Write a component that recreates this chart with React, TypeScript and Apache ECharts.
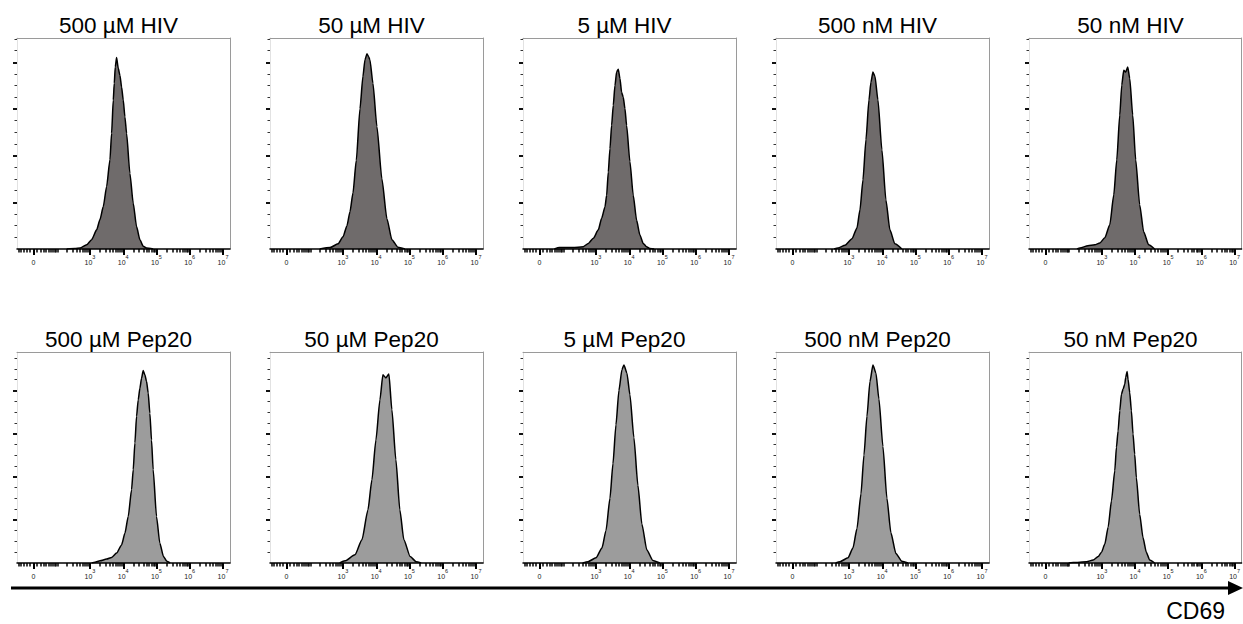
import React, { useEffect, useRef } from "react";
import * as echarts from "echarts";

// Panel titles (row 1: HIV peptide, row 2: Pep20)
const panelTitles = [
  "500 µM HIV", "50 µM HIV", "5 µM HIV", "500 nM HIV", "50 nM HIV",
  "500 µM Pep20", "50 µM Pep20", "5 µM Pep20", "500 nM Pep20", "50 nM Pep20",
];

// Histograms: [CD69 on biexponential display scale (10^k -> k), cell count]
const hiv500uM = [[2.30,0],[2.55,1],[2.70,2],[2.90,9],[3.05,20],[3.20,41],[3.30,63],[3.40,91],[3.50,134],[3.60,191],[3.65,248],[3.70,319],[3.73,355],[3.76,390],[3.80,410],[3.85,387],[3.90,372],[3.95,347],[4.00,319],[4.05,283],[4.10,248],[4.20,162],[4.30,98],[4.40,48],[4.50,20],[4.60,6],[4.70,2],[4.90,0]];
const hiv50uM = [[2.30,0],[2.61,3],[2.85,11],[3.00,26],[3.12,50],[3.21,80],[3.30,120],[3.40,190],[3.51,300],[3.60,370],[3.66,405],[3.72,418],[3.77,412],[3.81,405],[3.90,355],[4.02,262],[4.17,150],[4.32,65],[4.47,20],[4.65,4],[4.86,0]];
const hiv5uM = [[1.75,0],[1.90,3],[2.30,3],[2.62,5],[2.77,12],[2.92,23],[3.07,41],[3.17,66],[3.27,90],[3.32,115],[3.37,165],[3.42,215],[3.47,265],[3.52,308],[3.57,350],[3.62,379],[3.67,385],[3.72,365],[3.77,336],[3.82,325],[3.87,301],[3.92,265],[4.02,187],[4.12,115],[4.22,62],[4.32,30],[4.42,12],[4.52,5],[4.62,1],[4.75,0]];
const hiv500nM = [[2.55,0],[2.67,2],[2.88,8],[3.09,22],[3.24,45],[3.33,84],[3.42,148],[3.51,234],[3.60,319],[3.66,357],[3.72,379],[3.78,370],[3.87,319],[3.99,212],[4.11,105],[4.23,41],[4.38,11],[4.59,0]];
const hiv50nM = [[2.25,0],[2.34,2],[2.58,7],[2.79,9],[2.94,13],[3.09,24],[3.24,52],[3.36,116],[3.45,191],[3.54,287],[3.60,351],[3.66,383],[3.72,379],[3.78,390],[3.84,366],[3.93,287],[4.02,191],[4.14,95],[4.26,37],[4.41,9],[4.59,0]];
const pep500uM = [[3.05,0],[3.15,2],[3.30,5],[3.50,9],[3.65,13],[3.80,23],[3.95,42],[4.05,69],[4.15,108],[4.25,170],[4.30,216],[4.35,278],[4.40,340],[4.45,378],[4.50,405],[4.55,428],[4.60,446],[4.65,436],[4.70,421],[4.75,394],[4.80,347],[4.85,285],[4.90,216],[5.00,108],[5.10,46],[5.21,15],[5.31,4],[5.41,0]];
const pep50uM = [[2.90,0],[3.06,5],[3.36,19],[3.57,54],[3.75,123],[3.87,193],[3.99,285],[4.11,378],[4.20,436],[4.29,429],[4.38,438],[4.47,355],[4.59,239],[4.71,123],[4.83,54],[5.02,15],[5.20,3],[5.35,0]];
const pep5uM = [[2.60,0],[2.76,3],[3.00,12],[3.18,35],[3.30,75],[3.42,150],[3.51,230],[3.60,320],[3.69,400],[3.78,448],[3.84,459],[3.93,440],[4.02,390],[4.14,290],[4.26,180],[4.38,90],[4.53,30],[4.71,6],[4.92,0]];
const pep500nM = [[2.60,0],[2.73,3],[2.97,12],[3.12,35],[3.24,80],[3.36,160],[3.45,250],[3.54,340],[3.63,420],[3.72,459],[3.81,440],[3.90,380],[4.02,270],[4.14,150],[4.26,70],[4.41,22],[4.59,4],[4.77,0]];
const pep50nM = [[2.00,0],[2.14,1],[2.54,3],[2.74,7],[2.89,15],[2.99,25],[3.09,44],[3.19,83],[3.29,144],[3.39,214],[3.44,268],[3.49,306],[3.54,353],[3.59,391],[3.64,403],[3.69,414],[3.72,430],[3.76,444],[3.79,426],[3.84,395],[3.89,353],[3.94,299],[3.99,252],[4.04,198],[4.14,113],[4.24,59],[4.34,25],[4.44,7],[4.59,0]];

const panelData = [hiv500uM, hiv50uM, hiv5uM, hiv500nM, hiv50nM, pep500uM, pep50uM, pep5uM, pep500nM, pep50nM];

// Axis ticks
const decadeLabels = [3, 4, 5, 6, 7];
const linearMinorValues = [-50, -40, -30, -20, -10, 10, 20, 30, 40, 50, 60, 70, 80, 90, 100, 200, 300, 400, 500, 600, 700, 800, 900];
const decadeMinorMultipliers = [2, 3, 4, 5, 6, 7, 8, 9];
const yMajorTicks = [100, 200, 300, 400];
const yMinorTicksTop = [25, 50, 75, 125, 150, 175, 225, 250, 275, 325, 350, 375, 425, 450];
const yMinorTicksBottom = [25, 50, 75, 125, 150, 175, 225, 250, 275, 325, 350, 375, 425, 450, 475];
const rowYMax = [452, 489];
const axisName = "CD69";

// biexponential display transform
const W = 20;
const biex = (v: number) => Math.log10(W) + Math.asinh(v / (2 * W)) / Math.LN10;
const Z0 = biex(0);
const X_MIN = 0.805;
const X_MAX = 7.21;

const FONT = "'Liberation Sans', Arial, sans-serif";

export default function App() {
  const ref = useRef<HTMLDivElement>(null);
  useEffect(() => {
    if (!ref.current) return;
    const chart = echarts.init(ref.current, undefined, { renderer: "svg" });

    const majorX = [Z0, ...decadeLabels];
    const minorX: number[] = [];
    linearMinorValues.forEach((v) => {
      const t = biex(v);
      if (t > X_MIN && t < X_MAX) minorX.push(t);
    });
    [3, 4, 5, 6].forEach((k) =>
      decadeMinorMultipliers.forEach((m) => minorX.push(biex(m * Math.pow(10, k))))
    );

    const grids: any[] = [];
    const xAxes: any[] = [];
    const yAxes: any[] = [];
    const series: any[] = [];
    const graphics: any[] = [];

    const COL_STEP = 253;
    const LEFT0 = 17;
    const GW = 213;
    const GH = 211;
    const ROW_TOP = [38, 352];

    panelData.forEach((data, i) => {
      const row = Math.floor(i / 5);
      const col = i % 5;
      const left = LEFT0 + COL_STEP * col;
      const top = ROW_TOP[row];
      grids.push({ left, top, width: GW, height: GH, show: false });

      xAxes.push({
        type: "value", gridIndex: i, min: X_MIN, max: X_MAX, position: "bottom", z: 5,
        axisLine: { show: true, onZero: false, lineStyle: { color: "#000", width: 1.5 } },
        axisTick: { show: true, customValues: majorX, length: 6, lineStyle: { color: "#000", width: 2 } },
        axisLabel: {
          show: true, customValues: majorX, margin: 5,
          formatter: (v: number) => (Math.abs(v - Z0) < 0.01 ? "{a|0}" : `{a|10}{s|${Math.round(v)}}`),
          rich: {
            a: { fontSize: 7, fontFamily: FONT, color: "#222", lineHeight: 12, verticalAlign: "bottom" },
            s: { fontSize: 5.5, fontFamily: FONT, color: "#222", lineHeight: 7, verticalAlign: "top" },
          },
        },
        splitLine: { show: false },
      });
      xAxes.push({
        type: "value", gridIndex: i, min: X_MIN, max: X_MAX, position: "bottom", z: 5,
        axisLine: { show: false },
        axisTick: { show: true, customValues: minorX, length: 3.5, lineStyle: { color: "#000", width: 1.5 } },
        axisLabel: { show: false },
        splitLine: { show: false },
      });
      xAxes.push({
        type: "value", gridIndex: i, min: X_MIN, max: X_MAX, position: "top", z: 4,
        axisLine: { show: true, onZero: false, lineStyle: { color: "#9a9a9a", width: 1 } },
        axisTick: { show: false }, axisLabel: { show: false }, splitLine: { show: false },
      });

      const ymax = rowYMax[row];
      yAxes.push({
        type: "value", gridIndex: i, min: 0, max: ymax, position: "left", z: 4,
        axisLine: { show: true, onZero: false, lineStyle: { color: "#e2e2e2", width: 1 } },
        axisTick: { show: true, customValues: yMajorTicks, length: 4, lineStyle: { color: "#111", width: 2 } },
        axisLabel: { show: false }, splitLine: { show: false },
      });
      yAxes.push({
        type: "value", gridIndex: i, min: 0, max: ymax, position: "left", z: 4,
        axisLine: { show: false },
        axisTick: { show: true, customValues: row === 0 ? yMinorTicksTop : yMinorTicksBottom, length: 2.5, lineStyle: { color: "#333", width: 1 } },
        axisLabel: { show: false }, splitLine: { show: false },
      });
      yAxes.push({
        type: "value", gridIndex: i, min: 0, max: ymax, position: "right", z: 4,
        axisLine: { show: true, onZero: false, lineStyle: { color: "#9a9a9a", width: 1 } },
        axisTick: { show: false }, axisLabel: { show: false }, splitLine: { show: false },
      });

      series.push({
        type: "line", xAxisIndex: 3 * i, yAxisIndex: 3 * i, data,
        symbol: "none", smooth: 0.2, smoothMonotone: "x",
        lineStyle: { color: "#000", width: 1.5 },
        areaStyle: { color: row === 0 ? "#6f6b6b" : "#9c9c9c", opacity: 1 },
        z: 2,
      });

      graphics.push({
        type: "text", x: left + GW / 2 - 5, y: top - 12.5,
        style: {
          text: panelTitles[i], fontSize: 22.5, fontFamily: FONT, fill: "#000",
          textAlign: "center", textVerticalAlign: "middle", align: "center", verticalAlign: "middle",
        },
      });
    });

    graphics.push({
      type: "line", shape: { x1: 11, y1: 588, x2: 1230, y2: 588 },
      style: { stroke: "#000", lineWidth: 3 },
    });
    graphics.push({
      type: "polygon", shape: { points: [[1228, 581], [1243, 588], [1228, 595]] },
      style: { fill: "#000" },
    });
    graphics.push({
      type: "text", x: 1225, y: 610.5,
      style: {
        text: axisName, fontSize: 23, fontFamily: FONT, fill: "#000",
        textAlign: "right", textVerticalAlign: "middle", align: "right", verticalAlign: "middle",
      },
    });

    chart.setOption({
      animation: false,
      backgroundColor: "#fff",
      grid: grids,
      xAxis: xAxes,
      yAxis: yAxes,
      series,
      graphic: graphics,
    });
    return () => chart.dispose();
  }, []);

  return (
    <div
      ref={ref}
      style={{ position: "fixed", left: 0, top: 0, width: 1243, height: 624 }}
    />
  );
}
